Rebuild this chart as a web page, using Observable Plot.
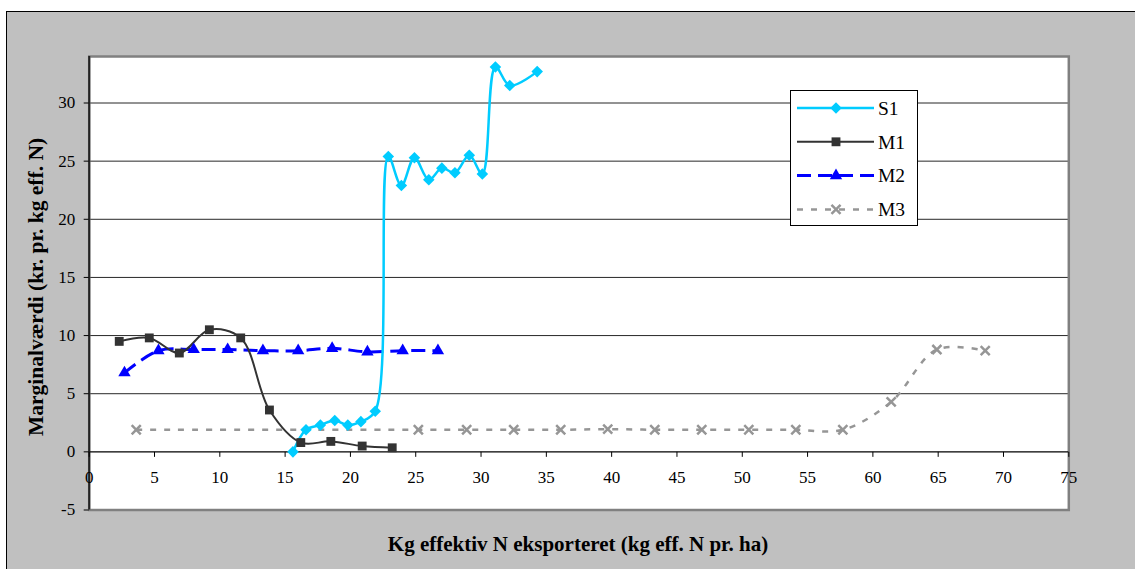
<!DOCTYPE html>
<html>
<head>
<meta charset="utf-8">
<script src="https://cdn.jsdelivr.net/npm/d3@7"></script>
<script src="https://cdn.jsdelivr.net/npm/@observablehq/plot@0.6"></script>
<style>
  html, body { margin: 0; padding: 0; background: #fff; overflow: hidden; }
  #wrap { position: relative; width: 1135px; height: 569px; overflow: hidden; }
  #bg { position: absolute; left: 6px; top: 11px; width: 1200px; height: 600px; background: #c0c0c0; border: 1px solid #000; box-sizing: border-box; }
  #chart { position: absolute; left: 0; top: 0; }
  #legend { position: absolute; left: 790px; top: 90px; width: 128px; height: 136px; background: #fff; border: 1px solid #000; box-sizing: border-box; }
  svg text { font-family: 'Liberation Serif', 'Times New Roman', serif; }
</style>
</head>
<body>
<div id="wrap">
  <div id="bg"></div>
  <div id="chart"></div>
  <div id="legend"></div>
</div>
<script>
// ---- Data ----
const s1X = [15.6, 16.6, 17.7, 18.8, 19.8, 20.8, 21.9, 22.9, 23.9, 24.9, 26.0, 27.0, 28.0, 29.1, 30.1, 31.1, 32.2, 34.3];
const s1Y = [0.0, 1.9, 2.3, 2.7, 2.3, 2.6, 3.5, 25.4, 22.9, 25.3, 23.4, 24.4, 24.0, 25.5, 23.9, 33.1, 31.5, 32.7];

const m1X = [2.3, 4.6, 6.9, 9.2, 11.6, 13.8, 16.2, 18.5, 20.9, 23.2];
const m1Y = [9.5, 9.8, 8.5, 10.5, 9.8, 3.6, 0.8, 0.9, 0.5, 0.35];

const m2X = [2.7, 5.3, 8.0, 10.6, 13.3, 16.0, 18.6, 21.3, 24.0, 26.7];
const m2Y = [6.8, 8.7, 8.8, 8.8, 8.7, 8.7, 8.9, 8.6, 8.7, 8.7];

const m3X = [3.6, 25.2, 28.9, 32.5, 36.1, 39.7, 43.3, 46.9, 50.5, 54.1, 57.7, 61.4, 64.9, 68.6];
const m3Y = [1.9, 1.9, 1.9, 1.9, 1.9, 1.95, 1.9, 1.9, 1.9, 1.9, 1.9, 4.3, 8.8, 8.7];

const seriesNames = ["S1", "M1", "M2", "M3"];
const xTicks = [0, 5, 10, 15, 20, 25, 30, 35, 40, 45, 50, 55, 60, 65, 70, 75];
const yTicks = [-5, 0, 5, 10, 15, 20, 25, 30];
const gridTicks = [5, 10, 15, 20, 25, 30];
const xTitle = "Kg effektiv N eksporteret (kg eff. N pr. ha)";
const yTitle = "Marginalværdi (kr. pr. kg eff. N)";

// ---- Styles ----
const FONT = "'Liberation Serif', 'Times New Roman', serif";
const styles = {
  S1: {color: "#00ccff", width: 2.5, dash: null, symbol: "diamond2", r: 5.2, fill: "#00ccff", stroke: "none", sw: 0},
  M1: {color: "#333333", width: 2, dash: null, symbol: "square", r: 5.0, fill: "#333333", stroke: "none", sw: 0},
  M2: {color: "#0000ff", width: 3, dash: "14,7", symbol: "triangle", r: 4.6, fill: "#0000ff", stroke: "none", sw: 0},
  M3: {color: "#969696", width: 2.5, dash: "6,8", symbol: "times", r: 4.2, fill: "none", stroke: "#969696", sw: 2.5}
};

const toRows = (xs, ys, name) => xs.map((x, i) => ({x, y: ys[i], name}));
const data = {
  S1: toRows(s1X, s1Y, "S1"),
  M1: toRows(m1X, m1Y, "M1"),
  M2: toRows(m2X, m2Y, "M2"),
  M3: toRows(m3X, m3Y, "M3")
};

const tickDown = {draw(ctx) { ctx.moveTo(0, 0); ctx.lineTo(0, 5); }};

const seriesMarks = [];
for (const name of ["M3", "M2", "M1", "S1"]) {
  const s = styles[name];
  seriesMarks.push(Plot.line(data[name], {
    x: "x", y: "y", curve: "catmull-rom", stroke: s.color, strokeWidth: s.width,
    strokeDasharray: s.dash || undefined, strokeLinecap: "butt"
  }));
}
for (const name of ["M3", "M2", "M1", "S1"]) {
  const s = styles[name];
  seriesMarks.push(Plot.dot(data[name], {
    x: "x", y: "y", symbol: s.symbol, r: s.r,
    fill: s.fill, stroke: s.stroke, strokeWidth: s.sw
  }));
}

const chart = Plot.plot({
  width: 1135,
  height: 569,
  marginLeft: 88.7,
  marginRight: 66.7,
  marginTop: 56,
  marginBottom: 59.5,
  x: {domain: [0, 75], axis: null},
  y: {domain: [-5, 34], axis: null},
  style: {background: "transparent", fontFamily: FONT, fontSize: "17px", color: "#000"},
  marks: [
    Plot.frame({fill: "#fff", stroke: "none"}),
    Plot.gridY(gridTicks, {stroke: "#000", strokeOpacity: 0.85, strokeWidth: 1}),
    Plot.frame({stroke: "#808080", strokeWidth: 2.5, fill: "none"}),
    Plot.ruleY([0], {stroke: "#000", strokeWidth: 1.2}),
    Plot.ruleX([0], {stroke: "#222", strokeWidth: 2}),
    Plot.axisY(yTicks, {tickSize: 5, tickPadding: 9, label: null, fontSize: 17, fontFamily: FONT, stroke: "#000", tickFormat: d => String(d)}),
    Plot.dot(xTicks, {x: d => d, y: 0, symbol: tickDown, stroke: "#000", strokeWidth: 1, fill: "none"}),
    Plot.text(xTicks, {x: d => d, y: 0, dy: 26, text: d => String(d), fontSize: 17, fontFamily: FONT}),
    ...seriesMarks
  ]
});
document.getElementById("chart").appendChild(chart);

// Axis titles (real text, placed within the SVG)
const svg = d3.select(chart);
svg.append("text")
  .attr("x", 578).attr("y", 546)
  .attr("text-anchor", "middle").attr("dominant-baseline", "middle")
  .attr("font-family", FONT)
  .attr("font-weight", "bold").attr("font-size", 21)
  .text(xTitle);
svg.append("text")
  .attr("transform", "translate(38,287) rotate(-90)")
  .attr("text-anchor", "middle").attr("dominant-baseline", "middle")
  .attr("font-family", FONT)
  .attr("font-weight", "bold").attr("font-size", 21.5)
  .text(yTitle);

// Legend
const symMap = {diamond2: d3.symbolDiamond2, square: d3.symbolSquare, triangle: d3.symbolTriangle, times: d3.symbolTimes};
const lg = d3.select("#legend").append("svg").attr("width", 126).attr("height", 134);
seriesNames.forEach((name, i) => {
  const s = styles[name];
  const yy = 17 + i * 33.8;
  lg.append("line").attr("x1", 6).attr("x2", 83).attr("y1", yy).attr("y2", yy)
    .attr("stroke", s.color).attr("stroke-width", s.width)
    .attr("stroke-dasharray", s.dash || null);
  lg.append("path")
    .attr("transform", `translate(45,${yy})`)
    .attr("d", d3.symbol(symMap[s.symbol], s.r * s.r * Math.PI)())
    .attr("fill", s.fill).attr("stroke", s.stroke).attr("stroke-width", s.sw);
  lg.append("text").attr("x", 87).attr("y", yy).attr("dy", "0.35em")
    .attr("font-family", FONT)
    .attr("font-size", 19.5).text(name);
});
</script>
</body>
</html>
